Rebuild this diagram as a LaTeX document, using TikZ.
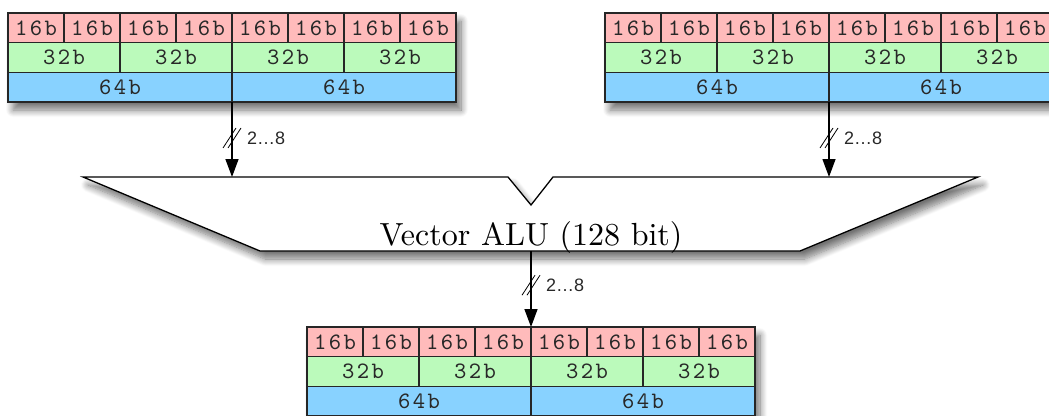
\documentclass[tikz,border=0pt]{standalone}
\usepackage{fontspec}
\newfontfamily\cellfont{lmmono10-regular}[Extension=.otf, LetterSpace=10]
\newfontfamily\alufont{lmroman10-regular}[Extension=.otf]
\newfontfamily\labelfont{Liberation Sans}
\usetikzlibrary{arrows.meta,shadows.blur,calc}

\definecolor{lanesixteen}{RGB}{255,187,187}
\definecolor{lanethirtytwo}{RGB}{187,250,187}
\definecolor{lanesixtyfour}{RGB}{136,210,255}
\definecolor{inktext}{RGB}{40,40,40}

\tikzset{
  softshadow/.style={blur shadow={shadow xshift=5pt, shadow yshift=-8pt,
      shadow blur radius=7pt, shadow blur steps=10, shadow opacity=55}},
  regframe/.style={draw=black, line width=1.3pt, fill=white, softshadow,
      inner sep=0pt, outer sep=0pt, minimum width=448pt, minimum height=89pt},
  cell/.style={draw=black!85, line width=1.2pt, inner sep=0pt, outer sep=0pt,
      minimum height=29.67pt, anchor=north west, text=inktext,
      font=\cellfont\fontsize{23.5}{23.5}\selectfont},
  lane16/.style={cell, fill=lanesixteen, minimum width=56pt},
  lane32/.style={cell, fill=lanethirtytwo, minimum width=112pt},
  lane64/.style={cell, fill=lanesixtyfour, minimum width=224pt},
  alubody/.style={draw=black, line width=1.3pt, fill=white, softshadow},
  alutext/.style={font=\alufont\fontsize{32}{36}\selectfont, inner sep=0pt,
      anchor=base},
  busarrow/.style={draw=black, line width=1.4pt,
      -{Triangle[length=18pt, width=13pt]}},
  bustick/.style={draw=black, line width=0.8pt},
  buslabel/.style={font=\labelfont\fontsize{18}{18}\selectfont, text=inktext,
      inner sep=0pt, anchor=west},
}

% One 128-bit register split into 16-, 32- and 64-bit lanes.
% #1 name, #2 left edge, #3 top edge
\newcommand\simdreg[3]{%
  \node[regframe, anchor=north west] (#1) at (#2,#3) {};
  \foreach \i in {0,...,7}
    \node[lane16] (#1-a\i) at (#2+56*\i, #3) {16b};
  \foreach \i in {0,...,3}
    \node[lane32] (#1-b\i) at (#2+112*\i, #3+29.67) {32b};
  \foreach \i in {0,1}
    \node[lane64] (#1-c\i) at (#2+224*\i, #3+59.33) {64b};
}

% Bus-width marker: double slash and width label
\newcommand\buswidth[1]{%
  \draw[bustick] ($(#1)+(-9,10)$) -- ($(#1)+(4,-10)$);
  \draw[bustick] ($(#1)+(-4,10)$) -- ($(#1)+(9,-10)$);
  \node[buslabel] (#1-lbl) at ($(#1)+(15,0)$) {2…8};
}

\begin{document}
\begin{tikzpicture}[x=1pt, y=-1pt]
  \useasboundingbox (0,0) rectangle (1049,415);

  % source and destination registers
  \simdreg{srca}{8}{13}
  \simdreg{srcb}{605}{13}
  \simdreg{dst}{307}{327}

  % ALU body with the notch between its two inputs
  \draw[alubody] (83,177) -- (508,177) -- (531,205) -- (553,177)
     -- (978,177) -- (800,251) -- (260,251) -- cycle;
  \node[alutext] (alu) at (531,245) {Vector ALU (128 bit)};
  \coordinate (alu-ina) at (232,177);
  \coordinate (alu-inb) at (829,177);
  \coordinate (alu-out) at (531,251);

  % data paths
  \draw[busarrow] (srca.south) -- coordinate[pos=0.48] (wa) (alu-ina);
  \draw[busarrow] (srcb.south) -- coordinate[pos=0.48] (wb) (alu-inb);
  \draw[busarrow] (alu-out) -- coordinate[pos=0.45] (wc) (dst.north);
  \buswidth{wa}
  \buswidth{wb}
  \buswidth{wc}
\end{tikzpicture}
\end{document}
